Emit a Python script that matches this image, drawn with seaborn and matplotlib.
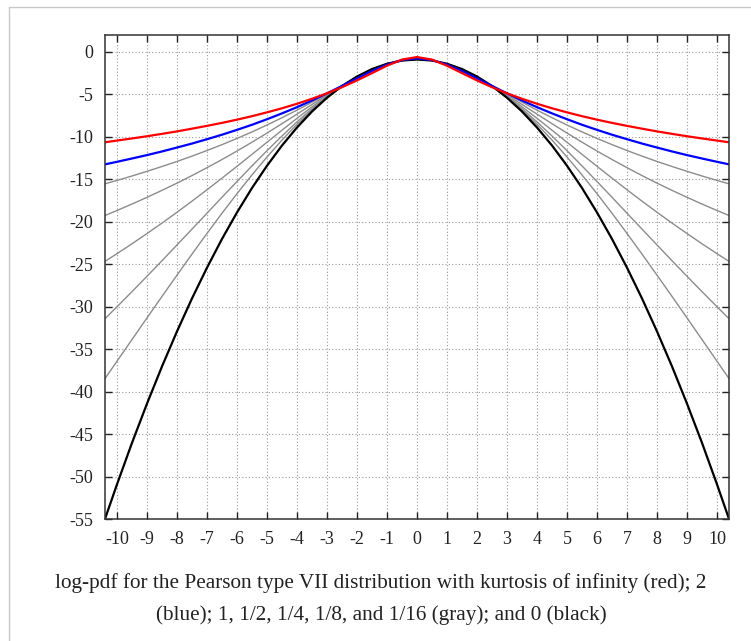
import numpy as np
import pandas as pd
import matplotlib
matplotlib.use("Agg")
import matplotlib.pyplot as plt
from matplotlib.lines import Line2D
import seaborn as sns

# x-Positionen (symmetrisch um 0)
x = [-10.4, -10, -9.5, -9, -8.5, -8, -7.5, -7, -6.5, -6, -5.5, -5, -4.5, -4,
     -3.5, -3, -2.5, -2, -1.5, -1, -0.5, 0, 0.5, 1, 1.5, 2, 2.5, 3, 3.5, 4,
     4.5, 5, 5.5, 6, 6.5, 7, 7.5, 8, 8.5, 9, 9.5, 10, 10.4]

# log-pdf-Werte
y_inf = [-10.66, -10.46, -10.21, -9.95, -9.67, -9.38, -9.06, -8.73, -8.38, -8.00,
         -7.59, -7.14, -6.66, -6.13, -5.54, -4.90, -4.18, -3.38, -2.52, -1.65,
         -0.93, -0.63, -0.93, -1.65, -2.52, -3.38, -4.18, -4.90, -5.54, -6.13,
         -6.66, -7.14, -7.59, -8.00, -8.38, -8.73, -9.06, -9.38, -9.67, -9.95,
         -10.21, -10.46, -10.66]
y_2 = [-13.26, -12.96, -12.57, -12.17, -11.74, -11.28, -10.81, -10.30, -9.77, -9.20,
       -8.60, -7.95, -7.26, -6.53, -5.74, -4.90, -4.03, -3.14, -2.27, -1.52,
       -0.98, -0.79, -0.98, -1.52, -2.27, -3.14, -4.03, -4.90, -5.74, -6.53,
       -7.26, -7.95, -8.60, -9.20, -9.77, -10.30, -10.81, -11.28, -11.74, -12.17,
       -12.57, -12.96, -13.26]
y_1 = [-15.55, -15.15, -14.63, -14.08, -13.51, -12.92, -12.29, -11.63, -10.94, -10.21,
       -9.44, -8.63, -7.77, -6.88, -5.94, -4.98, -4.01, -3.06, -2.20, -1.48,
       -1.00, -0.83, -1.00, -1.48, -2.20, -3.06, -4.01, -4.98, -5.94, -6.88,
       -7.77, -8.63, -9.44, -10.21, -10.94, -11.63, -12.29, -12.92, -13.51, -14.08,
       -14.63, -15.15, -15.55]
y_1_2 = [-19.28, -18.69, -17.93, -17.14, -16.32, -15.47, -14.58, -13.65, -12.69, -11.69,
         -10.65, -9.58, -8.47, -7.35, -6.21, -5.09, -4.01, -3.00, -2.13, -1.45,
         -1.02, -0.87, -1.02, -1.45, -2.13, -3.00, -4.01, -5.09, -6.21, -7.35,
         -8.47, -9.58, -10.65, -11.69, -12.69, -13.65, -14.58, -15.47, -16.32, -17.14,
         -17.93, -18.69, -19.28]
y_1_4 = [-24.68, -23.77, -22.61, -21.40, -20.17, -18.90, -17.59, -16.25, -14.88, -13.49,
         -12.08, -10.66, -9.24, -7.84, -6.49, -5.20, -4.01, -2.97, -2.09, -1.44,
         -1.03, -0.89, -1.03, -1.44, -2.09, -2.97, -4.01, -5.20, -6.49, -7.84,
         -9.24, -10.66, -12.08, -13.49, -14.88, -16.25, -17.59, -18.90, -20.17, -21.40,
         -22.61, -23.77, -24.68]
y_1_8 = [-31.42, -30.02, -28.24, -26.43, -24.60, -22.74, -20.88, -19.01, -17.13, -15.28,
         -13.44, -11.65, -9.92, -8.26, -6.71, -5.29, -4.03, -2.94, -2.07, -1.43,
         -1.04, -0.90, -1.04, -1.43, -2.07, -2.94, -4.03, -5.29, -6.71, -8.26,
         -9.92, -11.65, -13.44, -15.28, -17.13, -19.01, -20.88, -22.74, -24.60, -26.43,
         -28.24, -30.02, -31.42]
y_1_16 = [-38.47, -36.43, -33.88, -31.33, -28.80, -26.30, -23.82, -21.39, -19.01, -16.71,
          -14.50, -12.39, -10.40, -8.55, -6.86, -5.35, -4.03, -2.93, -2.06, -1.42,
          -1.04, -0.91, -1.04, -1.42, -2.06, -2.93, -4.03, -5.35, -6.86, -8.55,
          -10.40, -12.39, -14.50, -16.71, -19.01, -21.39, -23.82, -26.30, -28.80, -31.33,
          -33.88, -36.43, -38.47]
y_0 = [-54.99, -50.92, -46.04, -41.42, -37.04, -32.92, -29.04, -25.42, -22.04, -18.92,
       -16.04, -13.42, -11.04, -8.92, -7.04, -5.42, -4.04, -2.92, -2.04, -1.42,
       -1.04, -0.92, -1.04, -1.42, -2.04, -2.92, -4.04, -5.42, -7.04, -8.92,
       -11.04, -13.42, -16.04, -18.92, -22.04, -25.42, -29.04, -32.92, -37.04, -41.42,
       -46.04, -50.92, -54.99]

kurtosis = ["1", "1/2", "1/4", "1/8", "1/16", "0", "2", "inf"]
series = [y_1, y_1_2, y_1_4, y_1_8, y_1_16, y_0, y_2, y_inf]

df = pd.concat([pd.DataFrame({"x": x, "y": s, "kurtosis": k})
                for k, s in zip(kurtosis, series)], ignore_index=True)

farben = {"1": "#8c8c8c", "1/2": "#8c8c8c", "1/4": "#8c8c8c", "1/8": "#8c8c8c",
          "1/16": "#8c8c8c", "0": "black", "2": "#0000ff", "inf": "#ff0000"}
breite = {"1": 1.0, "1/2": 1.0, "1/4": 1.0, "1/8": 1.0, "1/16": 1.0,
          "0": 1.6, "2": 1.6, "inf": 1.6}

sns.set_theme(style="ticks")
plt.rcParams["font.family"] = ["Liberation Serif", "DejaVu Serif"]
plt.rcParams["axes.unicode_minus"] = False

fig = plt.figure(figsize=(7.51, 6.41), dpi=100)
ax = fig.add_axes([105 / 751, 1 - 519 / 641, (729 - 105) / 751, (519 - 34.7) / 641])

for k in kurtosis:
    sns.lineplot(data=df[df["kurtosis"] == k], x="x", y="y", color=farben[k],
                 linewidth=breite[k], estimator=None, sort=False, ax=ax)

ax.set_xlim(-10.4, 10.4)
ax.set_ylim(-55, 2)
ax.set_xticks(range(-10, 11))
ax.set_yticks(range(-55, 1, 5))
ax.set_xlabel("")
ax.set_ylabel("")
ax.grid(True, linestyle=(0, (1, 2)), color="#999999", linewidth=0.8)
ax.tick_params(direction="in", length=5, width=1, top=True, right=True,
               labelsize=13, colors="#222222")
ax.tick_params(axis="x", pad=9)
ax.tick_params(axis="y", pad=8.5)
for sp in ax.spines.values():
    sp.set_linewidth(1.1)
    sp.set_color("#333333")

# Rahmen um das Bild
fig.add_artist(Line2D([9 / 751, 1], [1 - 7 / 641, 1 - 7 / 641], color="#c8c8c8", lw=1))
fig.add_artist(Line2D([9 / 751, 9 / 751], [0, 1 - 7 / 641], color="#c8c8c8", lw=1))

# Bildunterschrift (im Rahmen zentriert)
fig.text(381 / 751, 1 - 583 / 641,
         "log-pdf for the Pearson type VII distribution with kurtosis of infinity (red); 2",
         ha="center", va="center", fontsize=15.3, color="#222222")
fig.text(381 / 751, 1 - 615 / 641,
         "(blue); 1, 1/2, 1/4, 1/8, and 1/16 (gray); and 0 (black)",
         ha="center", va="center", fontsize=15.3, color="#222222")

fig.savefig("out.png", dpi=100)
